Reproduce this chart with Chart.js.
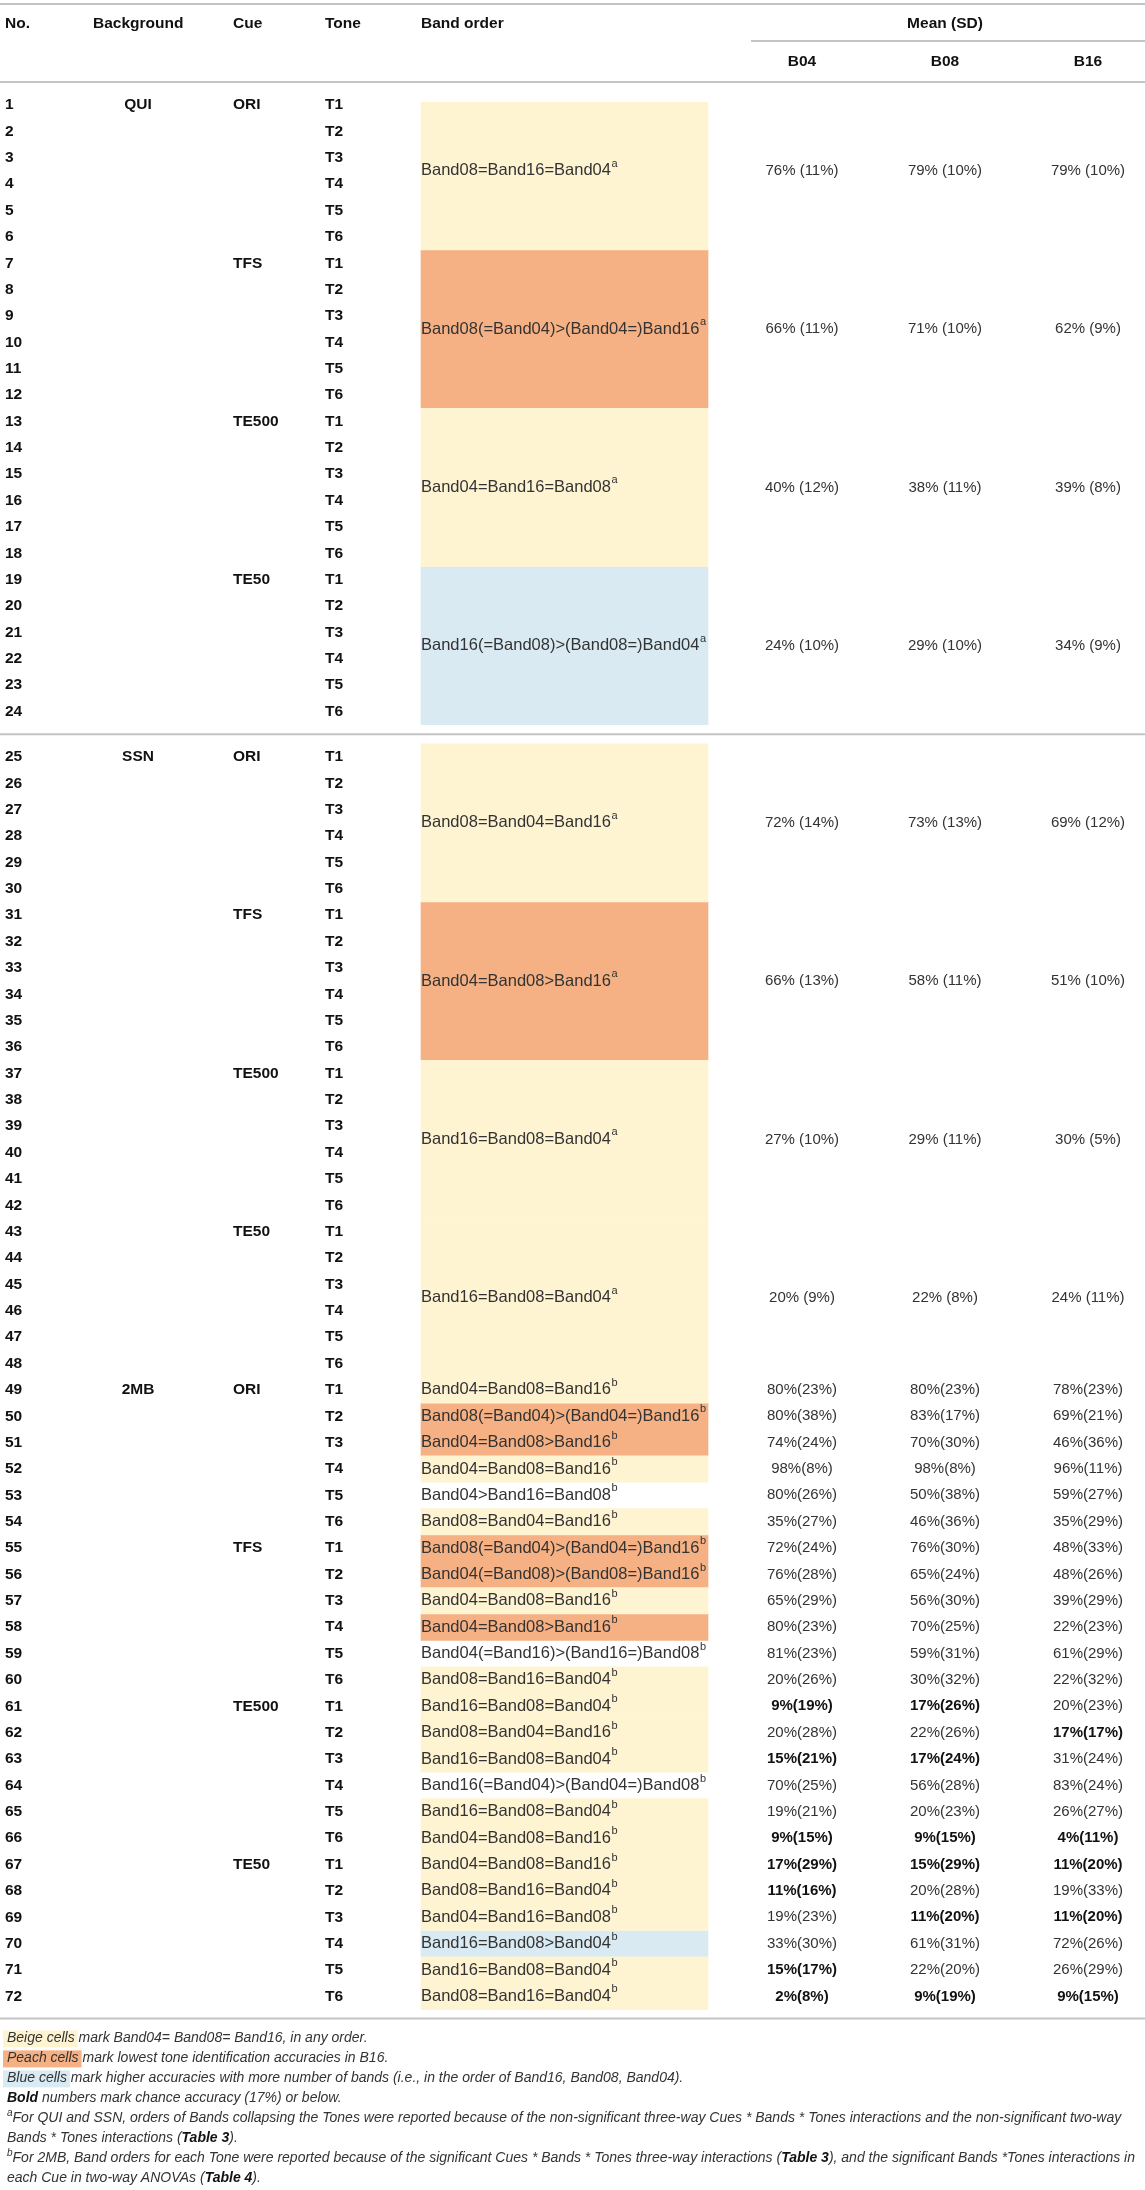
<!DOCTYPE html>
<html lang="en">
<head>
  <meta charset="UTF-8">
  <title>Band order and Mean (SD) by Background, Cue and Tone</title>
  <style>
    body { margin: 0; background: #fff; }
    #wrap { width: 1145px; height: 2190px; }
  </style>
</head>
<body>
  <div id="wrap"><canvas id="table-chart" width="1145" height="2190"></canvas></div>

  <script src="https://cdn.jsdelivr.net/npm/chart.js"></script>
  <script>
    // ---- table data ----
    const backgrounds = ['QUI', 'SSN', '2MB'];
    const cues = ['ORI', 'TFS', 'TE500', 'TE50'];
    const tones = ['T1', 'T2', 'T3', 'T4', 'T5', 'T6'];
    const bandHeaders = ['B04', 'B08', 'B16'];

    // band order cells: first/last table row they cover
    const cellFirst = [1, 7, 13, 19, 25, 31, 37, 43,
      49, 50, 51, 52, 53, 54, 55, 56, 57, 58, 59, 60,
      61, 62, 63, 64, 65, 66, 67, 68, 69, 70, 71, 72];
    const cellLast = [6, 12, 18, 24, 30, 36, 42, 48,
      49, 50, 51, 52, 53, 54, 55, 56, 57, 58, 59, 60,
      61, 62, 63, 64, 65, 66, 67, 68, 69, 70, 71, 72];
    const cellOrder = [
      'Band08=Band16=Band04', 'Band08(=Band04)>(Band04=)Band16', 'Band04=Band16=Band08', 'Band16(=Band08)>(Band08=)Band04',
      'Band08=Band04=Band16', 'Band04=Band08>Band16', 'Band16=Band08=Band04', 'Band16=Band08=Band04',
      'Band04=Band08=Band16', 'Band08(=Band04)>(Band04=)Band16', 'Band04=Band08>Band16', 'Band04=Band08=Band16', 'Band04>Band16=Band08', 'Band08=Band04=Band16',
      'Band08(=Band04)>(Band04=)Band16', 'Band04(=Band08)>(Band08=)Band16', 'Band04=Band08=Band16', 'Band04=Band08>Band16', 'Band04(=Band16)>(Band16=)Band08', 'Band08=Band16=Band04',
      'Band16=Band08=Band04', 'Band08=Band04=Band16', 'Band16=Band08=Band04', 'Band16(=Band04)>(Band04=)Band08', 'Band16=Band08=Band04', 'Band04=Band08=Band16',
      'Band04=Band08=Band16', 'Band08=Band16=Band04', 'Band04=Band16=Band08', 'Band16=Band08>Band04', 'Band16=Band08=Band04', 'Band08=Band16=Band04'
    ];
    const cellNote = ['a', 'a', 'a', 'a', 'a', 'a', 'a', 'a',
      'b', 'b', 'b', 'b', 'b', 'b', 'b', 'b', 'b', 'b', 'b', 'b',
      'b', 'b', 'b', 'b', 'b', 'b', 'b', 'b', 'b', 'b', 'b', 'b'];
    const cellShade = ['beige', 'peach', 'beige', 'blue', 'beige', 'peach', 'beige', 'beige',
      'beige', 'peach', 'peach', 'beige', 'none', 'beige',
      'peach', 'peach', 'beige', 'peach', 'none', 'beige',
      'beige', 'beige', 'beige', 'none', 'beige', 'beige',
      'beige', 'beige', 'beige', 'blue', 'beige', 'beige'];

    // mean and SD accuracy (%) per cell
    const meanB04 = [76, 66, 40, 24, 72, 66, 27, 20,
      80, 80, 74, 98, 80, 35, 72, 76, 65, 80, 81, 20, 9, 20, 15, 70, 19, 9, 17, 11, 19, 33, 15, 2];
    const sdB04 = [11, 11, 12, 10, 14, 13, 10, 9,
      23, 38, 24, 8, 26, 27, 24, 28, 29, 23, 23, 26, 19, 28, 21, 25, 21, 15, 29, 16, 23, 30, 17, 8];
    const meanB08 = [79, 71, 38, 29, 73, 58, 29, 22,
      80, 83, 70, 98, 50, 46, 76, 65, 56, 70, 59, 30, 17, 22, 17, 56, 20, 9, 15, 20, 11, 61, 22, 9];
    const sdB08 = [10, 10, 11, 10, 13, 11, 11, 8,
      23, 17, 30, 8, 38, 36, 30, 24, 30, 25, 31, 32, 26, 26, 24, 28, 23, 15, 29, 28, 20, 31, 20, 19];
    const meanB16 = [79, 62, 39, 34, 69, 51, 30, 24,
      78, 69, 46, 96, 59, 35, 48, 48, 39, 22, 61, 22, 20, 17, 31, 83, 26, 4, 11, 19, 11, 72, 26, 9];
    const sdB16 = [10, 9, 8, 9, 12, 10, 5, 11,
      23, 21, 36, 11, 27, 29, 33, 26, 29, 23, 29, 32, 23, 17, 24, 24, 27, 11, 20, 33, 20, 26, 29, 15];

    const CHANCE = 17; // bold when mean <= chance

    // ---- layout ----
    const W = 1145, H = 2190;
    const ROW_PX = 26.37;
    const ROW_GAP = 0.725;           // extra space at the QUI / SSN rule
    const Y_MIN = 1 - 105 / ROW_PX;
    const Y_MAX = Y_MIN + H / ROW_PX;
    const COL_NO = 5, COL_BG = 138, COL_CUE = 233, COL_TONE = 325;
    const CELL_L = 421, CELL_R = 708;
    const COL_VAL = [802, 945, 1088];
    const FONT = '"Liberation Sans", Arial, Helvetica, sans-serif';
    const BAND_SIZE = 16.5;
    const SHADES = { beige: '#fff4d2', peach: '#f5b184', blue: '#d9eaf3' };
    const RULE = '#c4c4c4';
    const TEXT = '#333333';

    function rowPos(r) { return r > 24 ? r + ROW_GAP : r; }
    function cellTop(i) { return cellFirst[i] === 1 ? rowPos(1) - 0.1 : rowPos(cellFirst[i]) - 0.5; }
    function cellBottom(i) { return rowPos(cellLast[i]) + 0.5; }

    function shadeData(name) {
      const pts = [];
      cellShade.forEach(function (s, i) {
        if (s === name) pts.push({ x: (CELL_L + CELL_R) / 2, y: [cellTop(i), cellBottom(i)] });
      });
      return pts;
    }

    function textWithSup(ctx, txt, sup, x, y, size) {
      ctx.fillText(txt, x, y);
      const w = ctx.measureText(txt).width;
      const keep = ctx.font;
      ctx.font = Math.round(size * 0.66) + 'px ' + FONT;
      ctx.fillText(sup, x + w + 0.5, y - size * 0.42);
      ctx.font = keep;
    }

    // footnote lines as styled pieces
    const notes = [
      [{ t: 'Beige cells', box: 'beige' }, { t: ' mark Band04= Band08= Band16, in any order.' }],
      [{ t: 'Peach cells', box: 'peach' }, { t: ' mark lowest tone identification accuracies in B16.' }],
      [{ t: 'Blue cells', box: 'blue' }, { t: ' mark higher accuracies with more number of bands (i.e., in the order of Band16, Band08, Band04).' }],
      [{ t: 'Bold', b: true }, { t: ' numbers mark chance accuracy (17%) or below.' }],
      [{ t: 'a', sup: true }, { t: 'For QUI and SSN, orders of Bands collapsing the Tones were reported because of the non-significant three-way Cues * Bands * Tones interactions and the non-significant two-way' }],
      [{ t: 'Bands * Tones interactions (' }, { t: 'Table 3', b: true }, { t: ').' }],
      [{ t: 'b', sup: true }, { t: 'For 2MB, Band orders for each Tone were reported because of the significant Cues * Bands * Tones three-way interactions (' }, { t: 'Table 3', b: true }, { t: '), and the significant Bands *Tones interactions in' }],
      [{ t: 'each Cue in two-way ANOVAs (' }, { t: 'Table 4', b: true }, { t: ').' }]
    ];

    function pieceFont(p) {
      if (p.sup) return 'italic 10px ' + FONT;
      return 'italic ' + (p.b ? 'bold ' : '') + '14px ' + FONT;
    }

    function drawNote(ctx, pieces, x, y, maxW) {
      let total = 0;
      pieces.forEach(function (p) { ctx.font = pieceFont(p); total += ctx.measureText(p.t).width; });
      const k = total > maxW ? maxW / total : 1;
      ctx.save();
      ctx.translate(x, y);
      ctx.scale(k, 1);
      let cx = 0;
      pieces.forEach(function (p) {
        ctx.font = pieceFont(p);
        const w = ctx.measureText(p.t).width;
        if (p.box) {
          ctx.fillStyle = SHADES[p.box];
          ctx.fillRect(cx - 4, -8, w + 7, 17);
        }
        ctx.fillStyle = p.b ? '#111' : TEXT;
        ctx.fillText(p.t, cx, p.sup ? -5 : 0);
        cx += w;
      });
      ctx.restore();
    }

    const tablePlugin = {
      id: 'tableText',
      afterDatasetsDraw(chart) {
        const ctx = chart.ctx;
        const x = chart.scales.x, y = chart.scales.y;
        const px = function (v) { return x.getPixelForValue(v); };
        const py = function (v) { return y.getPixelForValue(v); };
        ctx.save();
        ctx.textBaseline = 'middle';

        // horizontal rules
        ctx.strokeStyle = RULE;
        ctx.lineWidth = 2;
        const rules = [[0, W, 4], [751, W, 41], [0, W, 82],
          [0, W, (py(rowPos(24)) + py(rowPos(25))) / 2], [0, W, py(rowPos(72)) + 22]];
        rules.forEach(function (r) {
          ctx.beginPath(); ctx.moveTo(px(r[0]), r[2]); ctx.lineTo(px(r[1]), r[2]); ctx.stroke();
        });

        // header
        ctx.fillStyle = '#111';
        ctx.font = 'bold 15.5px ' + FONT;
        ctx.textAlign = 'left';
        ctx.fillText('No.', px(COL_NO), 24);
        ctx.fillText('Background', px(93), 24);
        ctx.fillText('Cue', px(COL_CUE), 24);
        ctx.fillText('Tone', px(COL_TONE), 24);
        ctx.fillText('Band order', px(CELL_L), 24);
        ctx.textAlign = 'center';
        ctx.fillText('Mean (SD)', px(COL_VAL[1]), 24);
        bandHeaders.forEach(function (h, j) { ctx.fillText(h, px(COL_VAL[j]), 62); });

        // row labels
        for (let r = 1; r <= 72; r++) {
          const yy = py(rowPos(r));
          ctx.textAlign = 'left';
          ctx.fillText(String(r), px(COL_NO), yy);
          ctx.fillText(tones[(r - 1) % 6], px(COL_TONE), yy);
          if ((r - 1) % 6 === 0) ctx.fillText(cues[Math.floor((r - 1) / 6) % 4], px(COL_CUE), yy);
          if ((r - 1) % 24 === 0) {
            ctx.textAlign = 'center';
            ctx.fillText(backgrounds[Math.floor((r - 1) / 24)], px(COL_BG), yy);
          }
        }

        // band order text and values
        const means = [meanB04, meanB08, meanB16];
        const sds = [sdB04, sdB08, sdB16];
        cellOrder.forEach(function (txt, i) {
          const yy = py((rowPos(cellFirst[i]) + rowPos(cellLast[i])) / 2);
          ctx.textAlign = 'left';
          ctx.fillStyle = TEXT;
          ctx.font = BAND_SIZE + 'px ' + FONT;
          textWithSup(ctx, txt, cellNote[i], px(CELL_L), yy, BAND_SIZE);
          const sep = cellFirst[i] > 48 ? '' : ' ';
          ctx.textAlign = 'center';
          for (let j = 0; j < 3; j++) {
            const m = means[j][i];
            const bold = m <= CHANCE;
            ctx.font = (bold ? 'bold ' : '') + '15px ' + FONT;
            ctx.fillStyle = bold ? '#111' : TEXT;
            ctx.fillText(m + '%' + sep + '(' + sds[j][i] + '%)', px(COL_VAL[j]), yy);
          }
        });

        // footnotes
        ctx.textAlign = 'left';
        const noteTop = py(rowPos(72)) + 42;
        notes.forEach(function (line, k) { drawNote(ctx, line, 7, noteTop + k * 20, 1136); });
        ctx.restore();
      }
    };

    const ctx = document.getElementById('table-chart').getContext('2d');
    const chart = new Chart(ctx, {
      type: 'bar',
      data: {
        datasets: ['beige', 'peach', 'blue'].map(function (name) {
          return {
            label: name,
            data: shadeData(name),
            backgroundColor: SHADES[name],
            borderWidth: 0,
            barThickness: CELL_R - CELL_L,
            grouped: false
          };
        })
      },
      options: {
        responsive: false,
        animation: false,
        events: [],
        layout: { padding: 0 },
        plugins: { legend: { display: false }, tooltip: { enabled: false } },
        scales: {
          x: { type: 'linear', min: 0, max: W, offset: false, display: false },
          y: { type: 'linear', reverse: true, min: Y_MIN, max: Y_MAX, display: false }
        }
      },
      plugins: [tablePlugin]
    });
  </script>
</body>
</html>
